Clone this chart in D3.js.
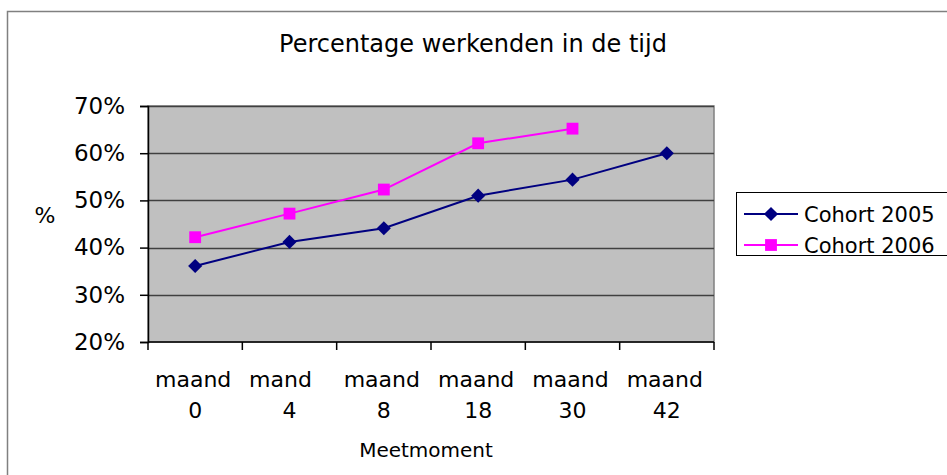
<!DOCTYPE html>
<html>
<head>
<meta charset="utf-8">
<script src="https://cdn.jsdelivr.net/npm/d3@7"></script>
<style>
  html, body { margin: 0; padding: 0; background: #fff; }
  svg text { font-family: 'DejaVu Sans', Verdana, sans-serif; fill: #000; }
</style>
</head>
<body>
<div id="chart"></div>
<script>
// Data
const categories = ['maand 0', 'mand 4', 'maand 8', 'maand 18', 'maand 30', 'maand 42']
const cohort2005 = [36.1, 41.2, 44.1, 51.0, 54.4, 60.0]
const cohort2006 = [42.2, 47.2, 52.3, 62.1, 65.2, null]
const yTicks = [20, 30, 40, 50, 60, 70]

const width = 947
const height = 475
const plot = { left: 148, right: 714, top: 106, bottom: 342 }

const svg = d3.select('#chart')
  .append('svg')
  .attr('width', width)
  .attr('height', height)

// Outer chart border
svg.append('rect')
  .attr('x', 7.5).attr('y', 11.5)
  .attr('width', 960).attr('height', 500)
  .attr('fill', 'none')
  .attr('stroke', '#808080')
  .attr('stroke-width', 1.5)

// Scales
const x = d3.scaleBand()
  .domain(categories)
  .range([plot.left, plot.right])

const y = d3.scaleLinear()
  .domain([20, 70])
  .range([plot.bottom, plot.top])

// Plot background
svg.append('rect')
  .attr('x', plot.left).attr('y', plot.top)
  .attr('width', plot.right - plot.left)
  .attr('height', plot.bottom - plot.top)
  .attr('fill', '#c0c0c0')
  .attr('stroke', '#808080')
  .attr('stroke-width', 1.5)

// Gridlines
svg.append('g')
  .selectAll('line')
  .data(yTicks.slice(1))
  .join('line')
  .attr('x1', plot.left).attr('x2', plot.right)
  .attr('y1', d => Math.round(y(d)) + 0.5)
  .attr('y2', d => Math.round(y(d)) + 0.5)
  .attr('stroke', '#404040')
  .attr('stroke-width', 1.5)

// Y axis
const yAxis = svg.append('g')
  .attr('transform', `translate(${plot.left},0)`)
  .call(d3.axisLeft(y).tickValues(yTicks).tickSize(8).tickPadding(15).tickFormat(d => d + '%'))
yAxis.select('.domain').attr('stroke', '#000').attr('stroke-width', 1.5)
yAxis.selectAll('.tick line').attr('stroke', '#000').attr('stroke-width', 1.5)
yAxis.selectAll('.tick text')
  .attr('font-size', '23px')
  .attr('font-family', "'DejaVu Sans', Verdana, sans-serif")

// X axis with ticks at band edges
const xAxis = svg.append('g')
  .attr('transform', `translate(0,${plot.bottom})`)
xAxis.append('line')
  .attr('x1', plot.left).attr('x2', plot.right)
  .attr('y1', 0).attr('y2', 0)
  .attr('stroke', '#000').attr('stroke-width', 1.5)
const edges = categories.map(c => x(c)).concat([plot.right])
xAxis.selectAll('line.tick')
  .data(edges)
  .join('line')
  .attr('class', 'tick')
  .attr('x1', d => d).attr('x2', d => d)
  .attr('y1', 0).attr('y2', 8)
  .attr('stroke', '#000').attr('stroke-width', 1.5)

const xLabels = xAxis.selectAll('text.cat')
  .data(categories)
  .join('text')
  .attr('class', 'cat')
  .attr('text-anchor', 'middle')
  .attr('font-size', '22px')
xLabels.each(function(d) {
  const parts = d.split(' ')
  const cx = x(d) + x.bandwidth() / 2
  // the short "mand" label sits a little left of its band centre
  const shift = parts[0] === 'mand' ? -9 : -2
  const t = d3.select(this)
  t.append('tspan').attr('x', cx + shift).attr('y', 45).text(parts[0])
  t.append('tspan').attr('x', cx).attr('y', 76).text(parts[1])
})

// Axis titles
svg.append('text')
  .attr('x', 426)
  .attr('y', 457)
  .attr('text-anchor', 'middle')
  .attr('font-size', '20px')
  .text('Meetmoment')

svg.append('text')
  .attr('x', 45)
  .attr('y', 223)
  .attr('text-anchor', 'middle')
  .attr('font-size', '22px')
  .text('%')

// Title
svg.append('text')
  .attr('x', 473)
  .attr('y', 52)
  .attr('text-anchor', 'middle')
  .attr('font-size', '24px')
  .text('Percentage werkenden in de tijd')

// Series
const diamond = d3.symbol(d3.symbolSquare, 100)
const square = d3.symbol(d3.symbolSquare, 140)
const series = [
  { name: 'Cohort 2005', values: cohort2005, color: '#000080', shape: diamond, rotate: 45 },
  { name: 'Cohort 2006', values: cohort2006, color: '#ff00ff', shape: square, rotate: 0 }
]

const line = d3.line()
  .defined(d => d.v != null)
  .x(d => x(d.c) + x.bandwidth() / 2)
  .y(d => y(d.v))

series.forEach(s => {
  const pts = categories.map((c, i) => ({ c, v: s.values[i] }))
  svg.append('path')
    .datum(pts)
    .attr('d', line)
    .attr('fill', 'none')
    .attr('stroke', s.color)
    .attr('stroke-width', 2)
  svg.append('g')
    .selectAll('path')
    .data(pts.filter(p => p.v != null))
    .join('path')
    .attr('transform', p => `translate(${x(p.c) + x.bandwidth() / 2},${y(p.v)}) rotate(${s.rotate})`)
    .attr('d', s.shape)
    .attr('fill', s.color)
})

// Legend
const legend = svg.append('g')
legend.append('rect')
  .attr('x', 736.5).attr('y', 192.5)
  .attr('width', 220).attr('height', 63)
  .attr('fill', '#fff')
  .attr('stroke', '#000')
  .attr('stroke-width', 1)

series.forEach((s, i) => {
  const ly = 214 + i * 31
  legend.append('line')
    .attr('x1', 744).attr('x2', 798)
    .attr('y1', ly).attr('y2', ly)
    .attr('stroke', s.color).attr('stroke-width', 2)
  legend.append('path')
    .attr('transform', `translate(771,${ly}) rotate(${s.rotate})`)
    .attr('d', s.shape)
    .attr('fill', s.color)
  legend.append('text')
    .attr('x', 804)
    .attr('y', ly + 8)
    .attr('font-size', '21px')
    .text(s.name)
})
</script>
</body>
</html>
